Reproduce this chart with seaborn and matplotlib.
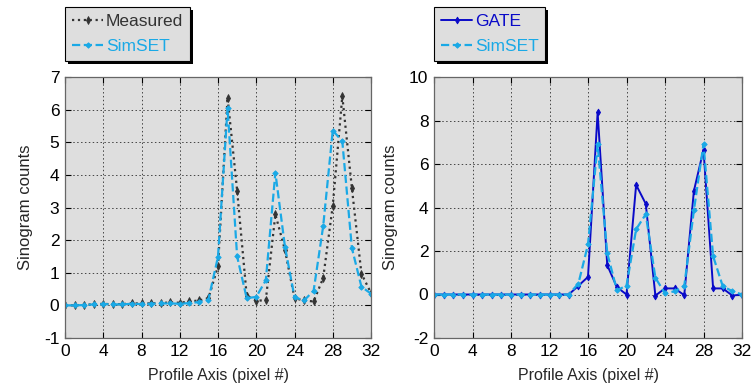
import numpy as np
import pandas as pd
import matplotlib
matplotlib.use("Agg")
import matplotlib.pyplot as plt
import seaborn as sns

# ---- data ----
pixels = list(range(33))
measured = [0.00, 0.00, 0.02, 0.03, 0.05, 0.03, 0.04, 0.06, 0.06, 0.06, 0.07, 0.09,
            0.08, 0.12, 0.15, 0.22, 1.20, 6.37, 3.52, 0.30, 0.14, 0.16, 2.79, 1.70,
            0.22, 0.15, 0.12, 0.84, 3.05, 6.41, 3.60, 0.97, 0.38]
simset_left = [0.00, 0.00, 0.01, 0.03, 0.04, 0.03, 0.03, 0.05, 0.04, 0.05, 0.06, 0.06,
               0.05, 0.07, 0.10, 0.18, 1.49, 6.05, 1.50, 0.22, 0.26, 0.77, 4.07, 1.80,
               0.25, 0.15, 0.45, 2.43, 5.36, 5.03, 1.76, 0.57, 0.36]
gate = [0.0, 0.0, 0.0, 0.0, 0.0, 0.0, 0.0, 0.0, 0.0, 0.0, 0.0, 0.0,
        0.0, 0.0, 0.0, 0.40, 0.81, 8.37, 1.35, 0.34, 0.00, 5.04, 4.17, -0.05,
        0.28, 0.28, -0.03, 4.76, 6.65, 0.28, 0.28, -0.05, 0.0]
simset_right = [0.0, 0.0, 0.0, 0.0, 0.0, 0.0, 0.0, 0.0, 0.0, 0.0, 0.0, 0.0,
                0.0, 0.0, 0.0, 0.50, 2.30, 6.90, 1.90, 0.20, 0.40, 3.00, 3.69, 0.77,
                0.05, 0.15, 0.38, 3.87, 6.91, 1.76, 0.38, 0.15, 0.0]
x_ticks = [0, 4, 8, 12, 16, 20, 24, 28, 32]
left_yticks = [-1, 0, 1, 2, 3, 4, 5, 6, 7]
right_yticks = [-2, 0, 2, 4, 6, 8, 10]

# ---- style ----
sns.set_style("ticks", {"axes.facecolor": "#dedede"})
plt.rcParams["font.family"] = ["Liberation Sans", "DejaVu Sans"]

BLACK = "#333333"
CYAN = "#1aa9e6"
BLUE = "#0a0ac8"

W, H = 754, 390
fig = plt.figure(figsize=(W / 100, H / 100), dpi=100)
ax1 = fig.add_axes([65 / W, 52 / H, 306 / W, 261 / H])
ax2 = fig.add_axes([434 / W, 52 / H, 308 / W, 261 / H])

df_left = pd.DataFrame({"x": pixels, "Measured": measured, "SimSET": simset_left})
df_right = pd.DataFrame({"x": pixels, "GATE": gate, "SimSET": simset_right})

sns.lineplot(data=df_left, x="x", y="Measured", ax=ax1, color=BLACK, linestyle=":",
             linewidth=1.6, marker="d", markersize=4, markeredgewidth=0.6,
             markeredgecolor=BLACK, label="Measured")
sns.lineplot(data=df_left, x="x", y="SimSET", ax=ax1, color=CYAN, linestyle="--",
             linewidth=1.6, marker="D", markersize=2.8, markeredgewidth=0.6,
             markeredgecolor=CYAN, label="SimSET")

sns.lineplot(data=df_right, x="x", y="GATE", ax=ax2, color=BLUE, linestyle="-",
             linewidth=1.4, marker="d", markersize=3.5, markeredgewidth=0.6,
             markeredgecolor=BLUE, label="GATE")
sns.lineplot(data=df_right, x="x", y="SimSET", ax=ax2, color=CYAN, linestyle="--",
             linewidth=1.6, marker="D", markersize=2.8, markeredgewidth=0.6,
             markeredgecolor=CYAN, label="SimSET")

for ax, yt in ((ax1, left_yticks), (ax2, right_yticks)):
    ax.set_xlim(0, 32)
    ax.set_ylim(yt[0], yt[-1])
    ax.set_xticks(x_ticks)
    ax.set_yticks(yt)
    ax.set_xticklabels([str(v) for v in x_ticks])
    ax.set_yticklabels([str(v) for v in yt])
    ax.grid(True, color="#444444", linestyle=(0, (1.5, 2.5)), linewidth=0.7)
    ax.set_axisbelow(True)
    ax.tick_params(direction="in", top=True, right=True, length=4, width=0.8,
                   labelsize=12.5, pad=4, colors="black")
    for s in ax.spines.values():
        s.set_color("#666666")
        s.set_linewidth(0.9)
    ax.set_xlabel("Profile Axis (pixel #)", fontsize=11.5, labelpad=7)
    ax.set_ylabel("Sinogram counts", fontsize=12, labelpad=8)

legs = []
for ax, lx in ((ax1, 65), (ax2, 434)):
    leg = ax.legend(loc="upper left", bbox_to_anchor=(lx / W, 1 - 7 / H),
                    bbox_transform=fig.transFigure, frameon=True, fancybox=False,
                    shadow=False,
                    framealpha=1, edgecolor="black", fontsize=12.5,
                    handlelength=1.8, handletextpad=0.15, borderpad=0.4,
                    labelspacing=0.55, borderaxespad=0)
    leg.get_frame().set_linewidth(0.8)
    for txt, line in zip(leg.get_texts(), leg.get_lines()):
        txt.set_color(line.get_color())
    legs.append((ax, leg))

# hard black drop shadow behind each legend frame (offset right/down)
fig.canvas.draw()
r = fig.canvas.get_renderer()
for ax, leg in legs:
    bb = leg.get_frame().get_window_extent(r)
    sh = plt.Rectangle((bb.x0 + 3, bb.y0 - 3), bb.width, bb.height, transform=None,
                       facecolor="black", edgecolor="none", zorder=4.9, clip_on=False)
    ax.add_artist(sh)

fig.savefig("out.png", dpi=100, facecolor="white")
